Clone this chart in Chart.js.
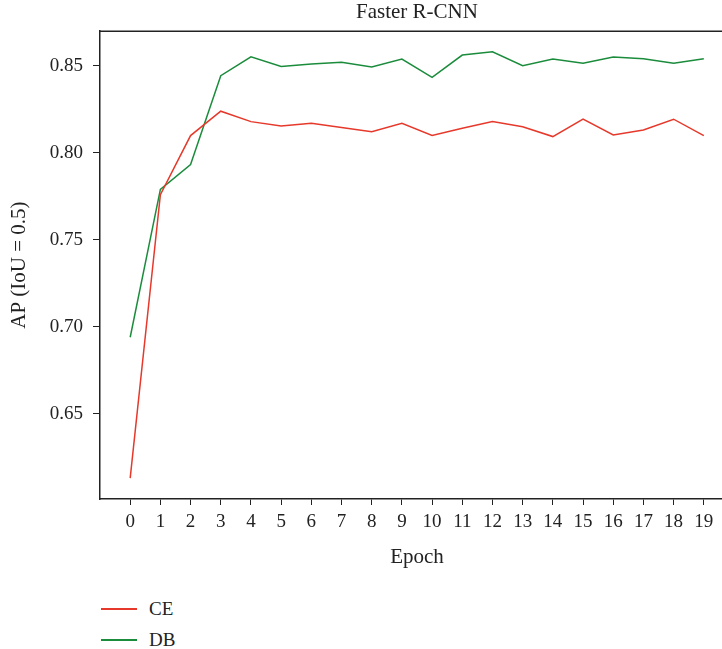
<!DOCTYPE html>
<html>
<head>
<meta charset="utf-8">
<script src="https://cdn.jsdelivr.net/npm/chart.js@4"></script>
<style>
  body { margin: 0; overflow: hidden; background: #fff; width: 722px; height: 649px; }
  #wrap { position: absolute; left: 0; top: 0; }
  #legend { position: absolute; left: 101px; top: 593px; font-family: 'Liberation Serif', serif; font-size: 19px; color: #222; }
  .item { height: 31px; display: flex; align-items: center; }
  .swatch { width: 36px; height: 2px; margin-right: 12px; }
</style>
</head>
<body>
<div id="wrap"><canvas id="chart" width="834" height="580"></canvas></div>
<div id="legend"></div>
<script>
const epochs = [0, 1, 2, 3, 4, 5, 6, 7, 8, 9, 10, 11, 12, 13, 14, 15, 16, 17, 18, 19];
const ceValues = [0.613, 0.776, 0.810, 0.824, 0.818, 0.8155, 0.817, 0.8146, 0.8122, 0.817,
                  0.810, 0.8142, 0.818, 0.8151, 0.8094, 0.8194, 0.8103, 0.8132, 0.8194, 0.810];
const dbValues = [0.694, 0.779, 0.7933, 0.8444, 0.8553, 0.8497, 0.8511, 0.8521, 0.8494, 0.854,
                  0.8435, 0.8563, 0.8582, 0.8502, 0.854, 0.8516, 0.8552, 0.8542, 0.8516, 0.8542];
const yTicks = [0.65, 0.70, 0.75, 0.80, 0.85];

const font = 'Liberation Serif';
const axisColor = '#222';

// top frame line, and keep the title centred over the plot area
const frame = {
    id: 'frame',
    afterLayout(chart) {
        const a = chart.chartArea;
        if (chart.titleBlock) {
            chart.titleBlock.left = a.left;
            chart.titleBlock.right = a.right;
        }
    },
    afterDraw(chart) {
        const a = chart.chartArea;
        const c = chart.ctx;
        c.save();
        c.strokeStyle = axisColor;
        c.lineWidth = 1.5;
        c.beginPath();
        c.moveTo(a.left, a.top);
        c.lineTo(a.right, a.top);
        c.stroke();
        c.restore();
    }
};

const ctx = document.getElementById('chart').getContext('2d');
const chart = new Chart(ctx, {
    type: 'line',
    data: {
        datasets: [
            { label: 'CE', data: epochs.map((e, i) => ({ x: e, y: ceValues[i] })), borderColor: '#e6392b', borderWidth: 1.5, pointRadius: 0, tension: 0 },
            { label: 'DB', data: epochs.map((e, i) => ({ x: e, y: dbValues[i] })), borderColor: '#1b8c3c', borderWidth: 1.5, pointRadius: 0, tension: 0 }
        ]
    },
    options: {
        responsive: false,
        animation: false,
        devicePixelRatio: 1,
        layout: { padding: { left: 0, right: 100, top: 0, bottom: 0 } },
        plugins: {
            legend: { display: false },
            tooltip: { enabled: false },
            title: {
                display: true,
                text: 'Faster R-CNN',
                color: '#222',
                font: { family: font, size: 21, weight: 'normal' },
                padding: { top: 0, bottom: 6 }
            }
        },
        scales: {
            x: {
                type: 'linear',
                min: -1,
                max: 20,
                afterBuildTicks: s => { s.ticks = epochs.map(v => ({ value: v })); },
                afterFit: s => { s.height = 81; },
                grid: { drawOnChartArea: false, tickLength: 6, color: axisColor, lineWidth: 1 },
                border: { color: axisColor, width: 1.5 },
                ticks: { color: '#222', font: { family: font, size: 19 }, padding: 6, maxRotation: 0, autoSkip: false },
                title: { display: true, text: 'Epoch', color: '#222', font: { family: font, size: 21 }, padding: { top: 0, bottom: 10 } }
            },
            y: {
                min: 0.601,
                max: 0.870,
                afterBuildTicks: s => { s.ticks = yTicks.map(v => ({ value: v })); },
                afterFit: s => { s.width = 100; },
                grid: { drawOnChartArea: false, tickLength: 7, color: axisColor, lineWidth: 1 },
                border: { color: axisColor, width: 1.5 },
                ticks: { color: '#222', font: { family: font, size: 19 }, padding: 10, callback: v => v.toFixed(2) },
                title: { display: true, text: 'AP (IoU = 0.5)', color: '#222', font: { family: font, size: 21 }, padding: { top: 7, bottom: 0 } }
            }
        }
    },
    plugins: [frame]
});

// legend stacked vertically under the chart
const legend = document.getElementById('legend');
chart.data.datasets.forEach(ds => {
    const item = document.createElement('div');
    item.className = 'item';
    item.innerHTML = '<span class="swatch" style="background:' + ds.borderColor + '"></span>' + ds.label;
    legend.appendChild(item);
});
</script>
</body>
</html>
